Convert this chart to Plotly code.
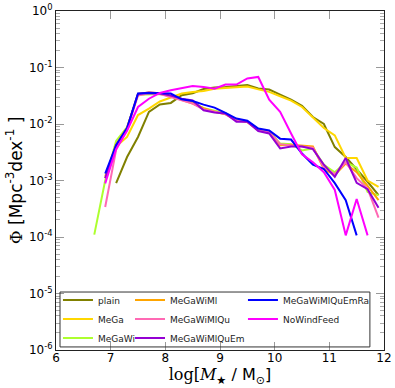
import plotly.graph_objects as go

# stellar-mass bin centres, log[M*/Msun]
log_mass = [6.7, 6.9, 7.1, 7.3, 7.5, 7.7, 7.9, 8.1, 8.3, 8.5, 8.7, 8.9, 9.1, 9.3,
            9.5, 9.7, 9.9, 10.1, 10.3, 10.5, 10.7, 10.9, 11.1, 11.3, 11.5, 11.7, 11.9]

plain = [None, None, 9e-4, 2.6e-3, 5.9e-3, 0.0164, 0.0221, 0.0236, 0.0323, 0.035,
         0.0417, 0.0442, 0.0453, 0.047, 0.049, 0.0424, 0.0407, 0.0332, 0.027, 0.021,
         0.0133, 0.010, 0.0039, 0.0026, 0.0016, 9.5e-4, 5.5e-4]
mega = [None, 1.2e-3, 4.0e-3, 5.9e-3, 0.0144, 0.0187, 0.025, 0.0295, 0.0346, 0.037,
        0.0385, 0.042, 0.0435, 0.045, 0.046, 0.041, 0.037, 0.031, 0.026, 0.020,
        0.0133, 0.0085, 0.0063, 0.0025, 0.0025, 1.0e-3, 7.7e-4]
megawi = [1.1e-4, 1.0e-3, 5.0e-3, 8.8e-3, 0.033, 0.034, 0.034, 0.031, 0.027, 0.024,
          0.019, 0.017, 0.0155, 0.012, 0.011, 0.0082, 0.0075, 0.0045, 0.0044, 0.0034,
          0.0037, 0.0019, 0.0014, 0.0021, 0.0017, 6.3e-4, 5.5e-4]
megawiml = [None, 1.1e-3, 4.3e-3, 8.5e-3, 0.034, 0.036, 0.035, 0.031, 0.027, 0.023,
            0.019, 0.0165, 0.0148, 0.0118, 0.0108, 0.0078, 0.007, 0.0042, 0.0043, 0.0042,
            0.0040, 0.0016, 0.00125, 0.002, 0.0014, 8e-4, 4.5e-4]
megawimlqu = [None, 3.4e-4, 3.5e-3, 8e-3, 0.032, 0.035, 0.034, 0.030, 0.026, 0.023,
              0.018, 0.0165, 0.015, 0.0115, 0.011, 0.0078, 0.0072, 0.0044, 0.0042, 0.0040,
              0.0038, 0.0017, 0.0013, 0.0021, 0.0011, 7.2e-4, 2.2e-4]
megawimlquem = [None, 1.1e-3, 4.2e-3, 8.4e-3, 0.034, 0.036, 0.035, 0.032, 0.028, 0.026,
                0.0175, 0.016, 0.0154, 0.011, 0.011, 0.0075, 0.0068, 0.0037, 0.0040, 0.0040,
                0.0036, 0.0019, 0.00116, 0.0025, 9.1e-4, 7e-4, 3.3e-4]
megawimlquemra = [None, 1.33e-3, 4.2e-3, 8.5e-3, 0.0346, 0.0355, 0.0355, 0.0346, 0.0274, 0.0256,
                  0.022, 0.0195, 0.0158, 0.0125, 0.0114, 0.0083, 0.0077, 0.0055, 0.0053, 0.003,
                  0.0019, 0.0016, 9e-4, 4.5e-4, 1.07e-4, None, None]
nowindfeed = [None, 8.9e-4, 3.6e-3, 7.6e-3, 0.020, 0.028, 0.0355, 0.0395, 0.0425, 0.047,
              0.0454, 0.0420, 0.050, 0.050, 0.064, 0.068, 0.027, 0.0164, 0.0068, 0.0029,
              0.0021, 0.0014, 6.8e-4, 1.07e-4, 4.7e-4, 1.07e-4, None]

series_names = ["plain", "MeGa", "MeGaWi", "MeGaWiMl", "MeGaWiMlQu",
                "MeGaWiMlQuEm", "MeGaWiMlQuEmRa", "NoWindFeed"]
series_values = [plain, mega, megawi, megawiml, megawimlqu,
                 megawimlquem, megawimlquemra, nowindfeed]
series_colors = ["#808000", "#FFD700", "#ADFF2F", "#FFA500", "#FF69B4",
                 "#9400D3", "#0000FF", "#FF00FF"]
series_legend = ["legend", "legend", "legend", "legend2", "legend2",
                 "legend2", "legend3", "legend3"]

x_ticks = [6, 7, 8, 9, 10, 11, 12]
y_tickvals = [1e0, 1e-1, 1e-2, 1e-3, 1e-4, 1e-5, 1e-6]
y_ticktext = ["10<sup>0</sup>", "10<sup>-1</sup>", "10<sup>-2</sup>", "10<sup>-3</sup>",
              "10<sup>-4</sup>", "10<sup>-5</sup>", "10<sup>-6</sup>"]
y_minor = [k * 10.0 ** e for e in range(-6, 0) for k in range(2, 10)]

fig = go.Figure()
for name, vals, col, lg in zip(series_names, series_values, series_colors, series_legend):
    fig.add_trace(go.Scatter(x=log_mass, y=vals, mode="lines", name=name,
                             line=dict(color=col, width=2), legend=lg))

leg_common = dict(bgcolor="rgba(0,0,0,0)", borderwidth=0, itemwidth=30,
                  font=dict(family="DejaVu Sans", size=9, color="#222"),
                  xanchor="left", yanchor="top", y=0.19, tracegroupgap=0)

fig.update_layout(
    width=395, height=388,
    margin=dict(l=56, r=11, t=11, b=38),
    paper_bgcolor="white", plot_bgcolor="white",
    font=dict(family="DejaVu Sans", color="black"),
    legend=dict(x=0.006, **leg_common),
    legend2=dict(x=0.2256, **leg_common),
    legend3=dict(x=0.570, **leg_common),
    shapes=[dict(type="rect", xref="paper", yref="paper",
                 x0=0.0122, x1=0.957, y0=0.009, y1=0.171,
                 line=dict(color="#333", width=1), fillcolor="rgba(0,0,0,0)")],
    xaxis=dict(range=[6, 12], tickvals=x_ticks, ticks="inside", ticklen=8,
               tickcolor="#999", tickwidth=1, showline=True, linecolor="#222",
               linewidth=1, mirror="ticks", showgrid=False, zeroline=False,
               automargin=False, ticklabelstandoff=-3, ticklabeloverflow="allow",
               tickfont=dict(size=12, family="DejaVu Sans"),
               title=dict(text="<span style=\"font-family:'DejaVu Serif'\">log[<i>M</i></span><sub>★</sub> / M<sub>⊙</sub>]",
                          font=dict(size=16), standoff=2)),
    yaxis=dict(type="log", range=[-6, 0], tickvals=y_tickvals, ticktext=y_ticktext,
               ticks="inside", ticklen=8, tickcolor="#999", tickwidth=1,
               minor=dict(tickvals=y_minor, ticks="inside", ticklen=4, tickcolor="#aaa"),
               showline=True, linecolor="#222", linewidth=1, mirror="ticks",
               showgrid=False, zeroline=False, automargin=False,
               ticklabeloverflow="allow",
               tickfont=dict(size=12, family="DejaVu Sans"),
               title=dict(text="<span style=\"font-family:'DejaVu Serif'\">Φ</span> [Mpc<sup>-3</sup>dex<sup>-1</sup> ]",
                          font=dict(size=17), standoff=2)),
)

# remove the default 8px page margin so the figure fills the window exactly
fig.write_html("out.html", config={"displayModeBar": False},
               post_script="document.body.style.margin='0px';")
